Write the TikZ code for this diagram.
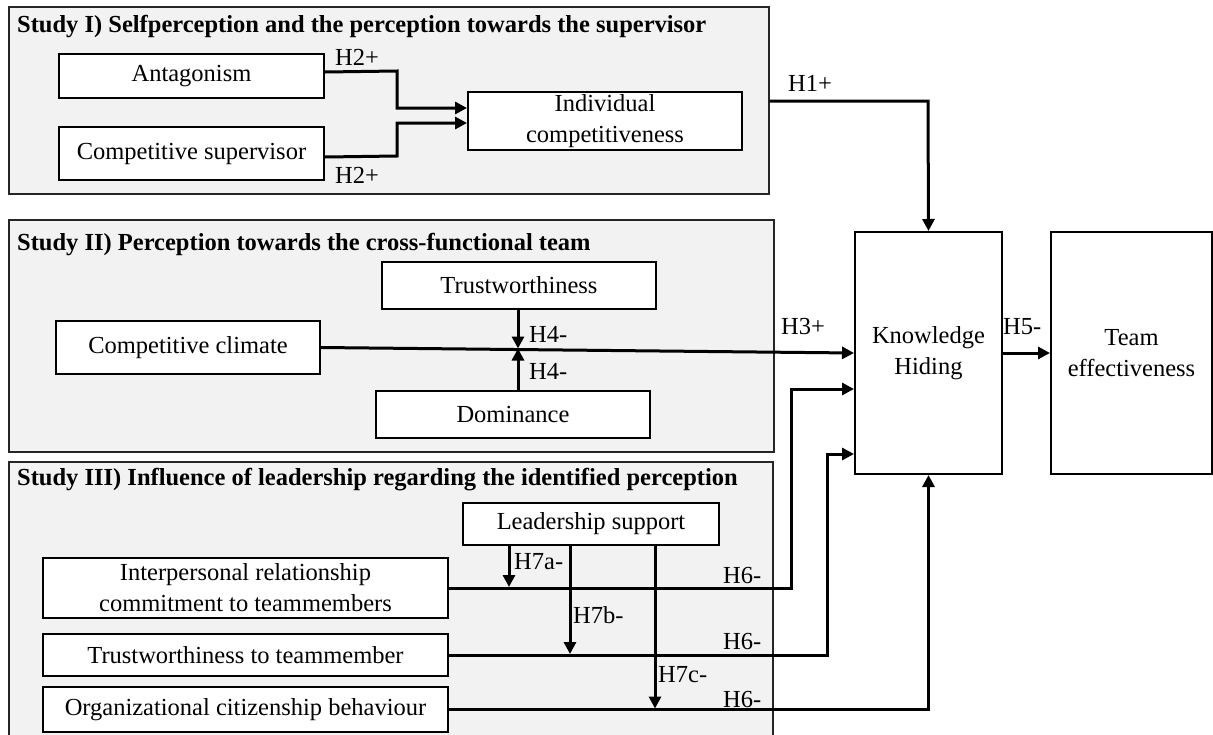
\documentclass[tikz,border=0pt]{standalone}
\usepackage{fontspec}
\setmainfont{Liberation Serif}
\usetikzlibrary{arrows.meta}
\definecolor{studyfill}{HTML}{F2F2F2}
\begin{document}
\begin{tikzpicture}[x=1pt,y=-1pt,
  every node/.style={font=\fontsize{24.5}{31}\selectfont},
  study/.style={draw=black!85, fill=studyfill, line width=1.5pt, anchor=north west, inner sep=0pt},
  box/.style={draw, fill=white, line width=2pt, inner sep=0pt, align=center, anchor=north west},
  arr/.style={line width=3pt, -{Triangle[length=12pt,width=12pt]}},
  lbl/.style={anchor=west, inner sep=0pt},
  ttl/.style={anchor=west, inner sep=0pt, font=\fontsize{24.5}{31}\selectfont\bfseries}]
\useasboundingbox (0,0) rectangle (1213,734);
\clip (0,0) rectangle (1213,734);

% study groups
\node[study, minimum width=760pt, minimum height=187pt] (s1) at (8,6) {};
\node[study, minimum width=765pt, minimum height=232pt] (s2) at (8,219) {};
\node[study, minimum width=764pt, minimum height=320pt] (s3) at (8,461) {};
\node[ttl] (t1) at (17,27) {Study I) Selfperception and the perception towards the supervisor};
\node[ttl] (t2) at (17,245) {Study II) Perception towards the cross-functional team};
\node[ttl] (t3) at (17,480) {Study III) Influence of leadership regarding the identified perception};

% Study I
\node[box, minimum width=265pt, minimum height=44pt] (ant) at (58,53) {Antagonism};
\node[box, minimum width=265pt, minimum height=53pt] (csup) at (58,126) {Competitive supervisor};
\node[box, minimum width=274pt, minimum height=58pt] (ind) at (467,91) {Individual\\competitiveness};

% main boxes
\node[box, minimum width=147pt, minimum height=242pt] (kh) at (854,231) {Knowledge\\Hiding};
\node[box, minimum width=161pt, minimum height=242pt] (te) at (1050,231) {Team\\effectiveness};

% Study II
\node[box, minimum width=274pt, minimum height=47pt] (trust) at (381,261) {Trustworthiness};
\node[box, minimum width=264pt, minimum height=53pt] (cc) at (55,320) {Competitive climate};
\node[box, minimum width=274pt, minimum height=47pt] (dom) at (375,390) {Dominance};

% Study III
\node[box, minimum width=256pt, minimum height=42pt] (ls) at (462,502) {Leadership support};
\node[box, minimum width=405pt, minimum height=60pt] (ip) at (42,557) {Interpersonal relationship\\commitment to teammembers};
\node[box, minimum width=405pt, minimum height=42pt] (ttm) at (42,633) {Trustworthiness to teammember};
\node[box, minimum width=405pt, minimum height=45pt] (ocb) at (42,686) {Organizational citizenship behaviour};

% coordinates
\coordinate (j1) at (397,71);
\coordinate (j2) at (397,108);
\coordinate (j3) at (397,156);
\coordinate (j4) at (397,123);
\coordinate (h1) at (928,101);
\coordinate (m1) at (518,348.5);
\coordinate (c1) at (791,389);
\coordinate (c2) at (827,454);
\coordinate (q1) at (509,587);
\coordinate (q2) at (570,654);
\coordinate (q3) at (655,708.5);

% Study I connectors
\draw[arr] ([yshift=4pt]ant.east) -- (j1) -- (j2) -- (ind.west |- j2);
\draw[arr] ([yshift=-3.5pt]csup.east) -- (j3) -- (j4) -- (ind.west |- j4);
\draw[arr] (s1.east |- h1) -- (h1) -- (kh.north);

% Study II connectors
\draw[arr] (cc.east) -- (kh.west);
\draw[arr] (trust.south -| m1) -- (m1);
\draw[arr] (dom.north -| m1) -- (m1);
\draw[arr] (kh.east) -- (te.west);

% Study III connectors
\draw[arr] (ip.east) -| (c1) -- (kh.west |- c1);
\draw[arr] (ttm.east) -| (c2) -- (kh.west |- c2);
\draw[arr] (ocb.east) -| (kh.south);
\draw[arr] (ls.south -| q1) -- (q1);
\draw[arr] (ls.south -| q2) -- (q2);
\draw[arr] (ls.south -| q3) -- (q3);

% labels
\node[lbl] (l1) at (335,57) {H2+};
\node[lbl] (l2) at (335,175) {H2+};
\node[lbl] (l3) at (788,83) {H1+};
\node[lbl] (l4) at (529,334) {H4-};
\node[lbl] (l5) at (529,371) {H4-};
\node[lbl] (l6) at (781,327) {H3+};
\node[lbl] (l7) at (1003,327) {H5-};
\node[lbl] (l8) at (514,562) {H7a-};
\node[lbl] (l9) at (573,615) {H7b-};
\node[lbl] (l10) at (658,675) {H7c-};
\node[lbl] (l11) at (723,575) {H6-};
\node[lbl] (l12) at (723,641) {H6-};
\node[lbl] (l13) at (723,699) {H6-};
\end{tikzpicture}
\end{document}
